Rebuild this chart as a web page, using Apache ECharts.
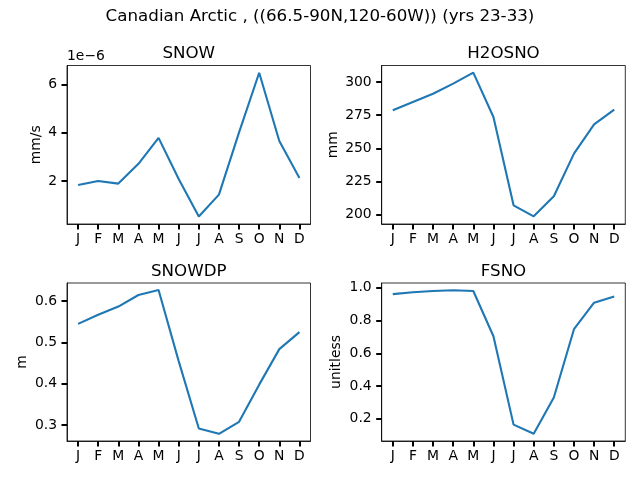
<!DOCTYPE html>
<html>
<head>
<meta charset="utf-8">
<script src="https://cdn.jsdelivr.net/npm/echarts@6/dist/echarts.min.js"></script>
<style>
  html, body { margin: 0; padding: 0; background: #fff; }
  #chart { width: 640px; height: 480px; }
</style>
</head>
<body>
<div id="chart"></div>
<script>
// months shown on every x axis
var months = ['J', 'F', 'M', 'A', 'M', 'J', 'J', 'A', 'S', 'O', 'N', 'D'];

// monthly climatology
var snow = [1.83e-6, 2.0e-6, 1.89e-6, 2.71e-6, 3.79e-6, 2.08e-6, 0.52e-6, 1.43e-6, 4.02e-6, 6.5e-6, 3.66e-6, 2.12e-6];
var h2osno = [278.7, 285.0, 291.2, 298.8, 307.1, 273.6, 207.0, 198.7, 213.8, 246.0, 268.1, 279.2];
var snowdp = [0.545, 0.567, 0.587, 0.615, 0.627, 0.455, 0.292, 0.279, 0.308, 0.398, 0.484, 0.525];
var fsno = [0.961, 0.973, 0.980, 0.985, 0.980, 0.704, 0.165, 0.109, 0.330, 0.747, 0.909, 0.947];

// tick labels on the y axes
var snowTicks = [2e-6, 4e-6, 6e-6];
var h2osnoTicks = [200, 225, 250, 275, 300];
var snowdpTicks = [0.3, 0.4, 0.5, 0.6];
var fsnoTicks = [0.2, 0.4, 0.6, 0.8, 1.0];

var FONT = 'DejaVu Sans';
var LINE = '#1f77b4';

var panels = [
    { name: 'SNOW', unit: 'mm/s', data: snow, ticks: snowTicks, min: 0.21e-6, max: 6.8e-6, gap: 24,
      fmt: function (v) { return String(Math.round(v / 1e-6)); },
      grid: { left: 67, top: 65.5, width: 243.5, height: 158.5 } },
    { name: 'H2OSNO', unit: 'mm', data: h2osno, ticks: h2osnoTicks, min: 192.9, max: 312.5, gap: 41,
      fmt: function (v) { return String(v); },
      grid: { left: 381.7, top: 65.5, width: 243.6, height: 158.5 } },
    { name: 'SNOWDP', unit: 'm', data: snowdp, ticks: snowdpTicks, min: 0.2616, max: 0.644, gap: 38,
      fmt: function (v) { return v.toFixed(1); },
      grid: { left: 67, top: 283, width: 243.5, height: 158 } },
    { name: 'FSNO', unit: 'unitless', data: fsno, ticks: fsnoTicks, min: 0.065, max: 1.029, gap: 38,
      fmt: function (v) { return v.toFixed(1); },
      grid: { left: 381.7, top: 283, width: 243.6, height: 158 } }
];

var monthIdx = months.map(function (m, i) { return i; });

var option = {
    backgroundColor: '#fff',
    animation: false,
    title: [
        {
            text: 'Canadian Arctic , ((66.5-90N,120-60W)) (yrs 23-33)',
            left: 'center', top: 8, padding: 0,
            textStyle: { fontFamily: FONT, fontSize: 16.7, fontWeight: 'normal', color: '#000' }
        },
        {
            text: '1e\u22126', left: 67, top: 49, padding: 0,
            textStyle: { fontFamily: FONT, fontSize: 13.9, fontWeight: 'normal', color: '#000' }
        }
    ],
    grid: [],
    xAxis: [],
    yAxis: [],
    series: []
};

panels.forEach(function (p, k) {
    var g = p.grid;
    option.grid.push({
        left: g.left, top: g.top, width: g.width, height: g.height,
        show: true, borderColor: '#000', borderWidth: 0.8, backgroundColor: 'transparent'
    });
    option.title.push({
        text: p.name, left: g.left + g.width / 2, textAlign: 'center',
        top: g.top - 20, padding: 0,
        textStyle: { fontFamily: FONT, fontSize: 16.7, fontWeight: 'normal', color: '#000' }
    });
    option.xAxis.push({
        type: 'value', gridIndex: k, min: -0.55, max: 11.55,
        axisLine: { show: true, onZero: false, lineStyle: { color: '#000', width: 0.8 } },
        splitLine: { show: false },
        // thin ticks came out almost invisible, so wider than matplotlib's
        axisTick: { show: true, customValues: monthIdx, length: 5.5, lineStyle: { color: '#000', width: 2 } },
        axisLabel: {
            customValues: monthIdx, margin: 8,
            fontFamily: FONT, fontSize: 13.9, color: '#000',
            formatter: function (v) { return months[Math.round(v)]; }
        }
    });
    option.yAxis.push({
        type: 'value', gridIndex: k, min: p.min, max: p.max,
        name: p.unit, nameLocation: 'middle', nameGap: p.gap,
        nameTextStyle: { fontFamily: FONT, fontSize: 13.9, color: '#000' },
        axisLine: { show: true, onZero: false, lineStyle: { color: '#000', width: 0.8 } },
        splitLine: { show: false },
        axisTick: { show: true, customValues: p.ticks, length: 5.5, lineStyle: { color: '#000', width: 2 } },
        axisLabel: {
            customValues: p.ticks, margin: 10,
            fontFamily: FONT, fontSize: 13.9, color: '#000',
            formatter: p.fmt
        }
    });
    option.series.push({
        type: 'line', xAxisIndex: k, yAxisIndex: k,
        data: p.data.map(function (v, i) { return [i, v]; }),
        showSymbol: false, symbol: 'none',
        lineStyle: { color: LINE, width: 2.1 },
        silent: true
    });
});

var myChart = echarts.init(document.getElementById('chart'));
myChart.setOption(option);
</script>
</body>
</html>
